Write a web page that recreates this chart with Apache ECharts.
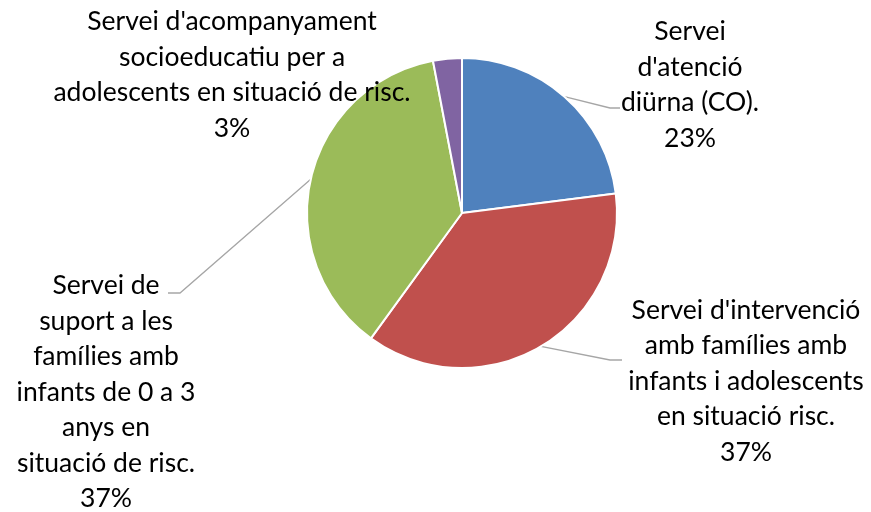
<!DOCTYPE html>
<html>
<head>
<meta charset="utf-8">
<script src="https://cdn.jsdelivr.net/npm/echarts@6/dist/echarts.min.js"></script>
<style>
  html, body { margin: 0; padding: 0; background: #fff; }
  #main { width: 871px; height: 512px; }
</style>
</head>
<body>
<div id="main"></div>
<script>
// dades del gràfic
var categories = [
    "Servei\nd'atenció\ndiürna (CO).",
    "Servei d'intervenció\namb famílies amb\ninfants i adolescents\nen situació risc.",
    "Servei de\nsuport a les\nfamílies amb\ninfants de 0 a 3\nanys en\nsituació de risc.",
    "Servei d'acompanyament\nsocioeducatiu per a\nadolescents en situació de risc."
];
var values = [23, 37, 37, 3];
var colors = ['#4F81BD', '#C0504D', '#9BBB59', '#8064A2'];

// on va cada etiqueta (centre del bloc de text) i on acaba la línia guia
var labelPos = [
    {x: 690, y: 85, mid: [610, 108], end: [620, 108]},
    {x: 746, y: 381, mid: [610, 360], end: [622, 360]},
    {x: 106, y: 392, mid: [180, 293], end: [168, 293]},
    {x: 232, y: 75, mid: null, end: null}
];

var data = [];
for (var i = 0; i < categories.length; i++) {
    data.push({
        name: categories[i],
        value: values[i],
        itemStyle: {color: colors[i]},
        labelLine: {show: labelPos[i].mid != null}
    });
}

var option = {
    animation: false,
    series: [
        {
            type: 'pie',
            center: [462, 213],
            radius: 155,
            startAngle: 90,
            clockwise: true,
            percentPrecision: 0,
            data: data,
            itemStyle: {
                borderColor: '#fff',
                borderWidth: 2
            },
            label: {
                show: true,
                position: 'outside',
                formatter: function (p) {
                    return p.name + '\n' + Math.round(p.percent) + '%';
                },
                fontFamily: 'Lato',
                fontSize: 26.5,
                lineHeight: 35.5,
                color: '#000',
                align: 'center'
            },
            labelLine: {
                show: true,
                lineStyle: {color: '#A6A6A6', width: 1.3}
            },
            labelLayout: function (params) {
                var pos = labelPos[params.dataIndex];
                var res = {
                    x: pos.x,
                    y: pos.y,
                    align: 'center',
                    verticalAlign: 'middle',
                    hideOverlap: false,
                    moveOverlap: false
                };
                if (pos.mid && params.labelLinePoints) {
                    res.labelLinePoints = [params.labelLinePoints[0], pos.mid, pos.end];
                }
                return res;
            }
        }
    ]
};

var myChart = echarts.init(document.getElementById('main'));
myChart.setOption(option);
</script>
</body>
</html>
